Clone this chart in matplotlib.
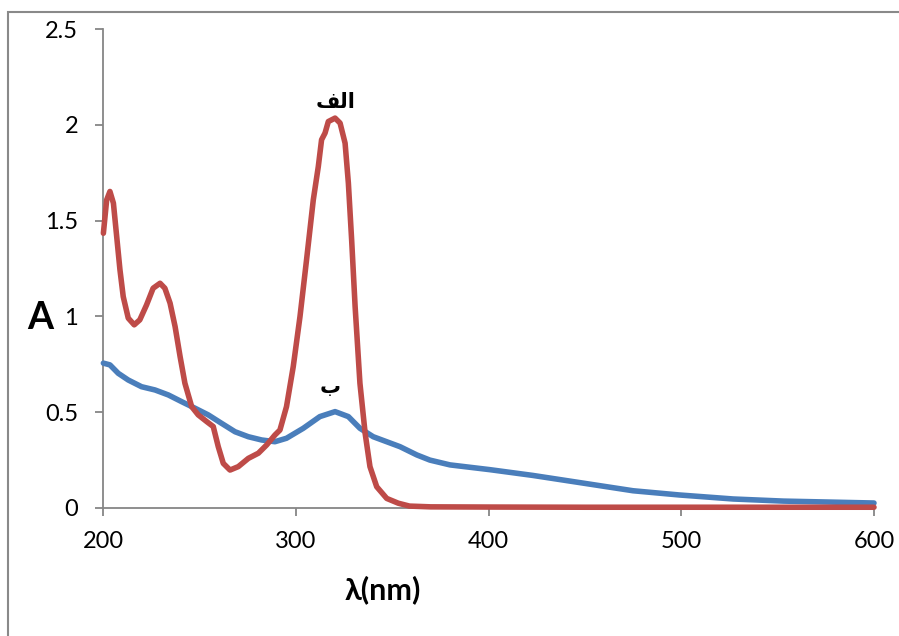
import matplotlib
matplotlib.use('Agg')
import matplotlib.pyplot as plt
from matplotlib.patches import Rectangle

# series "alef" (red)
red_wl = [200.2, 201.9, 203.6, 205.4, 207.1, 208.8, 210.5, 213.1, 216.2, 219.1, 222.6, 226, 229.6,
          232.1, 234.8, 237.4, 240, 242.5, 246, 249.4, 253.8, 257.2, 259.8, 262.4, 265.9, 270.2,
          275.4, 280.6, 284.9, 289.2, 291.8, 295.2, 298.7, 302.2, 305.6, 309.1, 311.7, 313.4,
          315.2, 316.9, 320.4, 323, 325.6, 327.3, 329, 330.8, 333.3, 336, 338.5, 342, 347.2,
          353.2, 359, 370, 400, 450, 500, 550, 600]
red_a = [1.434, 1.608, 1.652, 1.591, 1.417, 1.243, 1.103, 0.991, 0.956, 0.982, 1.06, 1.147, 1.173,
         1.147, 1.069, 0.947, 0.79, 0.651, 0.529, 0.486, 0.451, 0.425, 0.32, 0.233, 0.198, 0.216,
         0.259, 0.286, 0.329, 0.381, 0.407, 0.529, 0.738, 0.999, 1.295, 1.608, 1.782, 1.922,
         1.957, 2.017, 2.035, 2.009, 1.904, 1.696, 1.399, 1.051, 0.651, 0.39, 0.216, 0.111, 0.05,
         0.025, 0.01, 0.006, 0.005, 0.004, 0.004, 0.004, 0.004]

# series "beh" (blue)
blue_wl = [200.2, 203.6, 207.9, 213.1, 220, 227, 233.9, 240.8, 247.7, 254.6, 261.5, 268.5, 275.4,
           282.3, 289.2, 295.2, 303.9, 312.5, 320.4, 327.3, 333.3, 340.2, 354.1, 362.8, 369.6,
           380, 400.8, 423, 449, 475, 499, 527, 553, 600]
blue_a = [0.756, 0.747, 0.703, 0.668, 0.633, 0.616, 0.59, 0.555, 0.521, 0.486, 0.442, 0.398, 0.372,
          0.355, 0.346, 0.364, 0.416, 0.477, 0.503, 0.477, 0.416, 0.372, 0.32, 0.277, 0.25,
          0.225, 0.20, 0.17, 0.13, 0.09, 0.068, 0.047, 0.036, 0.026]

x_ticks = [200, 300, 400, 500, 600]
y_ticks = [0, 0.5, 1, 1.5, 2, 2.5]
y_tick_labels = ['0', '0.5', '1', '1.5', '2', '2.5']

# Arabic labels (presentation forms, visual order so they join correctly)
label_alef = '\uFED2\uFEDF\uFE8D'   # الف
label_beh = '\u0628'                 # ب

plt.rcParams['font.family'] = ['Lato', 'DejaVu Sans']

fig = plt.figure(figsize=(8.99, 6.36), dpi=100)
fig.patches.append(Rectangle((8 / 899, -0.1), 1.1, 1 - 12 / 636 + 0.1, transform=fig.transFigure,
                             fill=False, edgecolor='#898989', linewidth=1.5))

ax = fig.add_axes([103 / 899, 1 - 508 / 636, (874 - 103) / 899, (508 - 29) / 636])
ax.plot(blue_wl, blue_a, color='#4A7EBB', linewidth=4.0, solid_capstyle='round',
        solid_joinstyle='round', zorder=3, clip_on=False)
ax.plot(red_wl, red_a, color='#BE4B48', linewidth=4.0, solid_capstyle='round',
        solid_joinstyle='round', zorder=4, clip_on=False)

ax.set_xlim(200, 600)
ax.set_ylim(0, 2.5)
ax.set_xticks(x_ticks)
ax.set_yticks(y_ticks)
ax.set_yticklabels(y_tick_labels)
for side in ['top', 'right']:
    ax.spines[side].set_visible(False)
for side in ['left', 'bottom']:
    ax.spines[side].set_color('#868686')
    ax.spines[side].set_linewidth(1.3)
ax.tick_params(direction='out', length=6, width=1.3, color='#868686', labelsize=17)
ax.tick_params(axis='y', pad=12)
ax.tick_params(axis='x', pad=10.5)

ax.text((383 - 103) / 771, (508 - 590) / 479, '\u03bb(nm)', transform=ax.transAxes,
        fontsize=22, fontweight='bold', ha='center', va='center')
ax.text(-0.082, 0.397, 'A', transform=ax.transAxes, fontsize=27, fontweight='bold',
        ha='center', va='center')

ax.text(320.5, 2.12, label_alef, fontsize=15, fontweight='bold', ha='center', va='center',
        family=['DejaVu Sans'])
ax.text(318, 0.63, label_beh, fontsize=15, fontweight='bold', ha='center', va='center',
        family=['DejaVu Sans'])

fig.savefig('out.png', dpi=100)
